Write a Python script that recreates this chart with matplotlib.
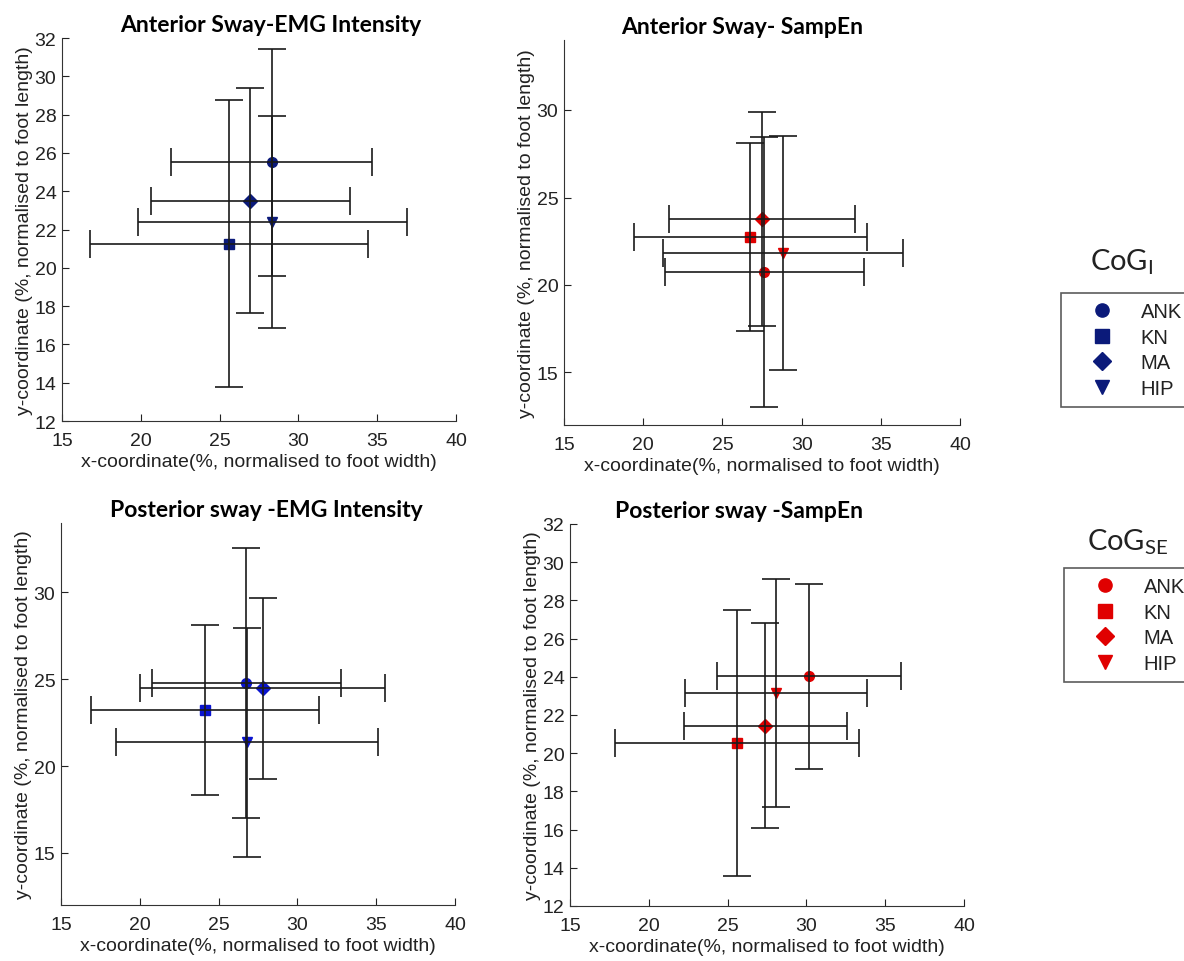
import matplotlib.pyplot as plt
from matplotlib.lines import Line2D

plt.rcParams['font.family'] = ['Liberation Sans', 'DejaVu Sans']

segments = ["ANK", "KN", "MA", "HIP"]
markers = ["o", "s", "D", "v"]

# anterior sway, EMG intensity
ant_emg_x = [28.3, 25.6, 26.95, 28.35]
ant_emg_y = [25.5, 21.25, 23.5, 22.4]
ant_emg_sdx = [6.4, 8.8, 6.3, 8.55]
ant_emg_sdy = [5.95, 7.5, 5.88, 5.53]

# anterior sway, SampEn
ant_se_x = [27.64, 26.77, 27.51, 28.84]
ant_se_y = [20.75, 22.74, 23.77, 21.82]
ant_se_sdx = [6.27, 7.36, 5.85, 7.58]
ant_se_sdy = [7.7, 5.37, 6.1, 6.7]

# posterior sway, EMG intensity
post_emg_x = [26.77, 24.13, 27.79, 26.81]
post_emg_y = [24.8, 23.22, 24.47, 21.36]
post_emg_sdx = [5.97, 7.23, 7.75, 8.3]
post_emg_sdy = [7.77, 4.88, 5.23, 6.62]

# posterior sway, SampEn
post_se_x = [30.17, 25.61, 27.4, 28.06]
post_se_y = [24.02, 20.52, 21.43, 23.14]
post_se_sdx = [5.82, 7.74, 5.17, 5.76]
post_se_sdy = [4.83, 6.97, 5.37, 5.96]

navy = "#0b1a7a"
blue = "#0a14d0"
red = "#e00000"

fig = plt.figure(figsize=(11.84, 9.62), dpi=100)
W, H = 1184, 962


def make_axes(left, top, right, bottom):
    return fig.add_axes([left / W, 1 - bottom / H, (right - left) / W, (bottom - top) / H])


def draw_panel(ax, title, title_x, xs, ys, sdx, sdy, color, ylim, yticks):
    for i in range(len(xs)):
        ax.plot(xs[i], ys[i], marker=markers[i], color=color, markersize=7,
                markeredgecolor=color, linestyle="none", zorder=2)
        ax.errorbar(xs[i], ys[i], xerr=sdx[i], yerr=sdy[i], fmt="none",
                    ecolor="#1a1a1a", elinewidth=1.2, capsize=10, capthick=1.2,
                    zorder=3)
    ax.set_xlim(15, 40)
    ax.set_ylim(*ylim)
    ax.set_xticks([15, 20, 25, 30, 35, 40])
    ax.set_yticks(yticks)
    ax.spines["top"].set_visible(False)
    ax.spines["right"].set_visible(False)
    for s in ["left", "bottom"]:
        ax.spines[s].set_color("#333333")
    ax.tick_params(direction="in", length=5, labelsize=14, colors="#222222", pad=4)
    ax.tick_params(axis="x", pad=8)
    ax.set_xlabel("x-coordinate(%, normalised to foot width)", fontsize=14,
                  color="#222222", labelpad=3)
    ax.set_ylabel("y-coordinate (%, normalised to foot length)", fontsize=14,
                  color="#222222", labelpad=1)
    ax.set_title(title, fontsize=16.5, fontweight="bold", family="Lato", pad=5,
                 x=title_x)


ax1 = make_axes(62, 39, 456, 422)
draw_panel(ax1, "Anterior Sway-EMG Intensity", 0.53, ant_emg_x, ant_emg_y,
           ant_emg_sdx, ant_emg_sdy, navy, (12, 32), range(12, 33, 2))

ax2 = make_axes(564, 41, 960, 426)
draw_panel(ax2, "Anterior Sway- SampEn", 0.45, ant_se_x, ant_se_y, ant_se_sdx,
           ant_se_sdy, red, (12, 34), [15, 20, 25, 30])

ax3 = make_axes(61, 524, 455, 906)
draw_panel(ax3, "Posterior sway -EMG Intensity", 0.52, post_emg_x, post_emg_y,
           post_emg_sdx, post_emg_sdy, blue, (12, 34), [15, 20, 25, 30])

ax4 = make_axes(570, 525, 964, 907)
draw_panel(ax4, "Posterior sway -SampEn", 0.43, post_se_x, post_se_y, post_se_sdx,
           post_se_sdy, red, (12, 32), range(12, 33, 2))


def add_legend(title_text, color, title_x, title_y, box_left, box_top):
    fig.text(title_x / W, 1 - title_y / H, title_text, fontsize=21, ha="center",
             va="center", family="Lato", color="#222222")
    handles = [Line2D([], [], marker=m, color=color, linestyle="none", markersize=9.5)
               for m in markers]
    leg = fig.legend(handles, segments, loc="upper left",
                     bbox_to_anchor=(box_left / W, 1 - box_top / H), borderaxespad=0,
                     frameon=True, fancybox=False, fontsize=14.5, handletextpad=0.3,
                     labelspacing=0.33, borderpad=0.45, handlelength=3.2)
    for t in leg.get_texts():
        t.set_color("#222222")
    leg.get_frame().set_edgecolor("#333333")
    leg.get_frame().set_linewidth(1.2)


add_legend(r"CoG$_\mathregular{I}$", navy, 1122, 262, 1061, 294)
add_legend(r"CoG$_\mathregular{SE}$", red, 1128, 542, 1064, 569)

fig.savefig("out.png", dpi=100)
